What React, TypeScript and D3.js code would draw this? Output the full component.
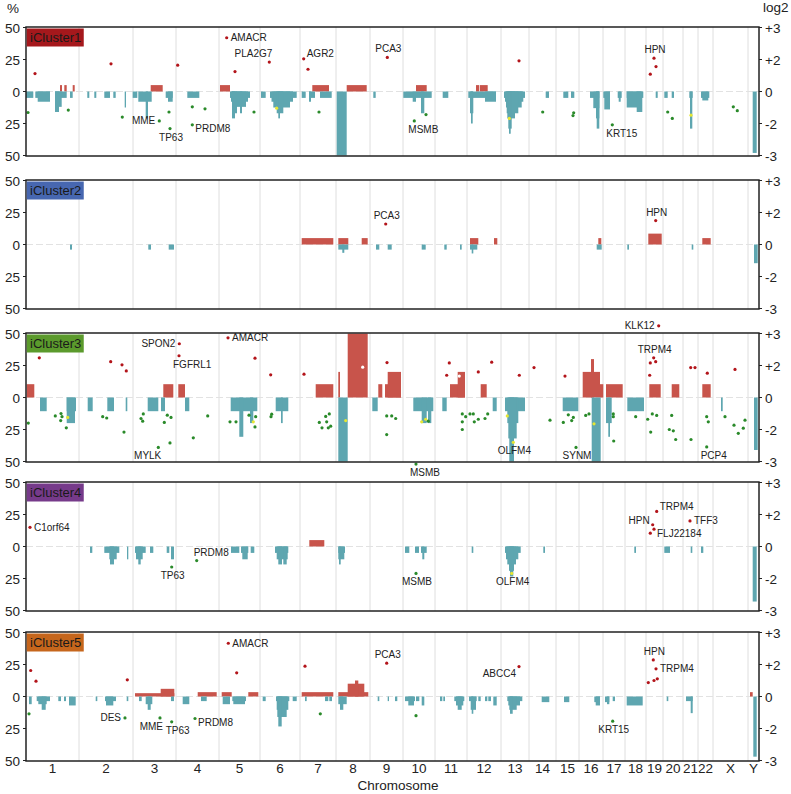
import React from 'react';
import * as d3 from 'd3';

// ---------- DATA ----------
const chromosomes = ['1','2','3','4','5','6','7','8','9','10','11','12','13','14','15','16','17','18','19','20','21','22','X','Y'];
// relative chromosome sizes in genome units
const chromLengths = [53,54,43,43,41,40,36,34,33,32,32,34,28,27,23,24,22,21,17,20,15,15,35,11];

const clusterNames = ['iCluster1','iCluster2','iCluster3','iCluster4','iCluster5'];
const clusterColors = ['#a5181c','#4767b0','#5b9a2c','#763a8a','#c6661c'];

const leftTicks = [50, 25, 0, -25, -50];
const rightTicks = [3, 2, 0, -2, -3];
const rightTickLabels = ['+3', '+2', '0', '-2', '-3'];

type Seg = [number, number, number];
type Pt = [number, number, string, string?, string?];

// [start, end, % of samples] in genome units
const gains1: Seg[] = [
  [34,36,5],[38.3,40.7,5],[46.7,48.7,5],[124.7,136.7,5],[194,204,5],[286.3,303,5],[320.7,340.7,5],
  [390,400.7,5],[450,453,5],[453.7,461.7,5],
];
const losses1: Seg[] = [
  [0,7.3,5],[9.3,24,5],[11.7,24,8],[29,40.7,5],[29,35.7,12],[29,33,16],[44,46.7,5],
  [61.3,63.3,5],[68.3,70.3,5],[78.3,84,5],[87.3,89.7,5],[98.7,100,12.5],
  [106.7,111.3,5],[112.3,125.7,8],[119.7,122,21],[139.7,146.7,5],[142,146.7,8],
  [161.3,173.3,5],
  [204,224,5],[205,222,8],[206,220,12],[206,211,17],[206,209,21],[214,216,17],
  [235,239.7,5],[244,270.7,5],[245.5,267,8],[247.3,264,12.5],[250.7,257.3,17],[252.3,254,21],
  [275.7,279.7,5],[283,289,5],[283,285,8],[294,305.7,5],
  [310.7,320.7,50],[347.3,349.7,5],
  [377.3,405.7,5],[386.7,390,8],[395,398.3,17],
  [416.7,422.3,5],
  [442.3,470,5],[444,447.3,17],[445,446.7,25],[459,470,8],
  [478,499,5],[479,497.3,8],[480,495.7,12.5],[480.7,492.3,17],[481.3,489,21],[482.3,485.7,29],[483,484.7,33],
  [519.7,523,5],[537.3,542.3,5],[545,548.3,5],
  [564,573.3,5],[567.3,573.3,13],[570,573.3,21],[570.7,573.3,29],[577.3,584,5],[578.3,584,14],
  [591.7,595.7,5],[592.7,594.7,8],
  [600.7,617.3,5],[600.7,615,12.5],[610.7,616.3,16],
  [629.7,631.7,5],[638.3,641.7,5],[645.7,648,5],
  [663.3,666.7,5],[664,666.3,29],
  [675,683.3,5],[676.3,682.3,7],
  [726.7,730.7,48],
];
const points1: Pt[] = [
  [9,14,'r'],[85,21.6,'r'],[151.7,20.6,'r'],[200.7,42,'r','AMACR','r'],[209,15.6,'r'],
  [243.3,23,'r','PLA2G7','tl'],[277.7,25.5,'r','AGR2','ru'],[282,17.4,'r'],[361.3,26.6,'r','PCA3','t'],
  [493,24,'r'],[628,26,'r','HPN','t'],[630,19.5,'r'],[624.3,13.5,'r'],
  [2,-16.4,'g'],[42.3,-14.5,'g'],[96.3,-20,'g'],[133.3,-23,'g','MME','l'],[143,-16,'g'],
  [144,-29,'g','TP63','b'],[166.3,-12,'g'],[179,-13.5,'g'],[166.3,-26,'g','PRDM8','rd'],
  [228,-16,'g'],[293,-16,'g'],[388.3,-23,'g','MSMB','br'],[400,-18,'g'],[516.7,-16,'g'],
  [547.7,-16.6,'g'],[547,-18.8,'g'],[586.3,-26,'g','KRT15','br'],[641.7,-16,'g'],[646.3,-21,'g'],
  [707.3,-12,'g'],[711.3,-15,'g'],
  [250.7,-13,'y'],[483.3,-21,'y'],[665,-18.5,'y'],
];

const gains2: Seg[] = [
  [275.7,307.3,5],[312.3,322.3,5],[335.7,341.7,5],[444,452.3,5],[468,471.3,5],[572.3,575.3,5],
  [622.3,635.7,8.5],[676.3,684.7,5],
];
const losses2: Seg[] = [
  [44,46,4],[122.3,125,4],[142.7,148,4],[312.3,322.3,4],[316.3,318.3,6.5],[350,353.3,4],[361.7,365.7,4],
  [395.7,399.7,4],[418.3,420.7,4],[434,435.7,4],[444,451.3,4],[445.7,447.3,7],[570.7,575.7,4],
  [601.3,603,4],[665.7,667.3,4],[728,731.7,14.6],
];
const points2: Pt[] = [
  [359.7,16,'r','PCA3','t'],[629.7,18.7,'r','HPN','t'],
];

const gains3: Seg[] = [
  [0.7,8.3,10.4],[137.3,147.3,10.4],[152.3,159,10.4],[289.7,307.3,10.4],[312.3,314,20],[321.7,341.7,50],
  [352.3,356.3,10.4],[359,375,10.4],[361.7,375,20],[424,439,10.4],[431.7,439,20],[454.7,460.7,10.4],
  [556.7,574,20],[565,568,30],[574,577.3,10.4],[580,596.7,10.4],[623.3,634.7,10.4],[645.7,653.3,10.4],
  [676.3,684.7,10.4],
];
const losses3: Seg[] = [
  [14,20.7,10.7],[40.7,50,10.7],[40.7,49,20],[61.7,66.7,10.7],[81.3,88,10.7],[99.7,101.3,10.7],
  [121.7,132.3,10.7],[135,139,10.7],[159,163.3,10.7],
  [204.7,231.3,10.7],[213.3,217.3,30.7],[224,227.3,20],
  [249.7,262.3,10.7],[255,256.7,20],
  [312.3,321.7,50],[346.3,351.7,10.7],
  [387.3,407.3,10.7],[395.7,400.7,20],[402,405.3,20],
  [416.3,420.7,10.7],[466.7,470.7,10.7],
  [479,499,10.7],[481.3,492.3,20],[482.3,490.7,32],[483.3,488,50],
  [536.7,552.3,10.7],[565.7,574.7,50],[580,585.7,20],[582.3,584,30.7],
  [601.3,618,10.7],[695,696.7,10.7],[728,731.7,41],
];
const points3: Pt[] = [
  [13.3,31,'r'],[84.7,28,'r'],[96,25.5,'r'],[100.3,20.8,'r'],[153.3,42,'r','SPON2','l'],
  [153,32.6,'r','FGFRL1','br'],[202,46.6,'r','AMACR','r'],[229,30.7,'r'],[244.7,17.7,'r'],[278,18.2,'r'],
  [361,27.3,'r'],[423.3,27,'r'],[420.7,17.4,'r'],[452.3,20,'r'],[465.7,27.6,'r'],[493.3,17.4,'r'],
  [508,23.4,'r'],[539,16.7,'r'],[627.7,31,'r','TRPM4','t'],[624.3,27,'r'],[629.7,28,'r'],[623.7,17.4,'r'],
  [632.7,56,'r','KLK12','l'],[664.7,23.4,'r'],[669,23.4,'r'],[681.3,19,'r'],[709,21.9,'r'],
  [336.7,23.7,'w'],[433.3,16.7,'w'],
  [2.3,-20,'g'],[29.3,-14.4,'g'],[35,-12.5,'g'],[36,-15,'g'],[34.7,-18,'g'],[40.3,-23.7,'g'],
  [76.7,-15,'g'],[80.7,-16,'g'],[98,-27,'g'],[115,-16.4,'g'],[117.3,-12.8,'g'],[116.7,-18.5,'g'],
  [138.3,-19.5,'g'],[141.3,-13.8,'g'],[145,-15.6,'g'],[132.3,-39,'g','MYLK','bl'],[144,-35.5,'g'],
  [167.3,-31.5,'g'],[181.7,-14.4,'g'],[204,-19,'g'],[210,-19,'g'],[223,-13.8,'g'],[229,-23,'g'],
  [229.7,-15,'g'],[245,-15,'g'],[245.7,-13,'g'],[293.3,-19.5,'g'],[296,-23.7,'g'],[299.7,-14.8,'g'],
  [300.7,-19,'g'],[303.3,-12.8,'g'],[302.3,-23.7,'g'],[304.7,-22.4,'g'],[360.7,-14.4,'g'],
  [365.7,-14.4,'g'],[369.7,-16.4,'g'],[360.7,-29,'g'],[402.3,-18.5,'g'],[390,-52,'g','MSMB','br'],
  [436.3,-12.8,'g'],[436.3,-19,'g'],[436.3,-25,'g'],[439.7,-15,'g'],[444,-12.8,'g'],[447.3,-12.8,'g'],
  [448.3,-19,'g'],[452.3,-17,'g'],[459,-16.4,'g'],[461.7,-12.8,'g'],[524,-17.7,'g'],[537.3,-19.5,'g'],
  [542.3,-13.5,'g'],[545.7,-18,'g'],[547.3,-15.6,'g'],[550,-39,'g','SYNM','b'],[559.7,-14,'g'],
  [563,-12.8,'g'],[587.3,-12.8,'g'],[587.3,-15,'g'],[587.7,-34,'g'],[609.7,-15,'g'],[621.7,-17,'g'],
  [626.3,-12.8,'g'],[630.7,-14,'g'],[624.7,-27,'g'],[645.7,-14,'g'],[643.3,-25,'g'],[647.3,-26,'g'],
  [649.7,-32.8,'g'],[665,-32.8,'g'],[680.7,-15,'g'],[682.3,-19,'g'],[680.7,-38.6,'g','PCP4','br'],
  [699,-15,'g'],[708,-21.6,'g'],[712.3,-28,'g'],[717.3,-24,'g'],[719,-17.7,'g'],
  [41.7,-15.6,'y'],[227.3,-19,'y'],[319.7,-18,'y'],[395.7,-19,'y'],[399.7,-17,'y'],[481.3,-14.4,'y'],
  [487.3,-35,'y','OLFM4','b'],[568,-20.6,'y'],
];

const gains4: Seg[] = [[283.3,298.3,5]];
const losses4: Seg[] = [
  [64,66.3,5],[78.3,93.3,5],[83.3,90.7,10],[84,88,14],[101,102.3,10],
  [109,119.7,5],[110,116.7,10],[112.3,114.7,14],[124,127.3,5],[140.7,143.3,5],[145,148,10],
  [205,213.3,5],[215,222.3,5],[216.3,221.7,10],[224.7,228.3,5],
  [249,262.3,5],[250.7,261.7,10],[252.3,256,14],[257.3,260.7,14],
  [312.3,319,5],[312.3,318.3,10],[313,314.7,14],
  [379,383.3,5],[389,393,5],[395,400.7,5],[396.3,398.3,10],[445.7,447.3,5],
  [479,494.7,5],[480,492.3,10],[481.3,490,14],[483,488,19],[484,487.3,23.4],
  [517.3,519,5],[608.3,610,5],[638.3,644,5],[664.7,666.3,5],[675,677.3,5],[726.7,730.7,43],
];
const points4: Pt[] = [
  [4,15,'r','C1orf64','r'],[626.7,17,'r','HPN','lu'],[630.7,27.4,'r','TRPM4','ru'],
  [628,13.5,'r','FLJ22184','rd'],[624.3,10.4,'r'],[664,20,'r','TFF3','r'],
  [145.7,-16,'g','TP63','b'],[170.7,-11,'g','PRDM8','tr'],[390,-21,'g','MSMB','b'],
  [485.7,-21,'y','OLFM4','b'],
];

const gains5: Seg[] = [
  [109,148.3,2.6],[134.7,148.3,6],[171.7,190.7,3.4],[195.7,205.7,3.4],[222.3,232.3,3.4],
  [275.7,307.3,3.4],[312.3,342.3,3.4],[321.7,338.3,10],[329,332.3,12.5],[724,726.7,3.4],
];
const losses5: Seg[] = [
  [3,5.7,6],[10.7,24,3.6],[12.3,20.7,6],[15.7,19.7,10.4],[32.3,35,3.6],[38,40,3.6],[43,49.7,7],
  [69.7,71.3,3.6],[79,90,3.6],[80,87.3,7],[100.7,102.3,3.6],
  [113,115.7,3.6],[119.7,126.3,6],[121.7,124.7,10.4],[145,148,3.6],
  [156.7,163.3,6],[175,180.7,3.6],[196.7,204,6],[206.3,220,3.6],[207.3,219,6],
  [236.7,239.7,3.6],[250,263.3,3.6],[250.7,262.3,10.4],[251.3,260.7,16],[252.3,255.7,23.4],[266.7,270.7,3.6],
  [279,280.7,3.6],[299,302.3,3.6],[303.3,306,3.6],[312.3,320.7,6],[314,317.3,10.4],
  [351.7,353.3,3.6],[361.7,363,3.6],[369,371.3,3.6],
  [379,389,3.6],[382.3,388,7],[390,393.3,3.6],[395.7,398.3,7],
  [414,416.3,3.6],[417.3,419,3.6],[428.3,438.3,3.6],[430,437.3,7],[431.7,435.7,10.4],
  [443,450.7,3.6],[444.7,450,10.4],[445.7,447.3,13.5],[452.3,454.7,3.6],[459,461.3,3.6],[462.3,465,3.6],[467.3,470.7,7],
  [481.3,496.3,3.6],[482.3,494,7],[483.3,490.7,10.4],[484,486.7,13.5],
  [515.7,523.3,4.4],[538,543.3,4.4],[568.3,574,4.4],[569.7,574,7],[579,583.3,4.4],[581,583.3,6],[586.7,589,3.6],
  [600.7,616.7,7],[640.7,642.3,3.6],[660,666.7,3.6],[664.7,666.7,13],[727.3,730.7,47],
];
const points5: Pt[] = [
  [4.7,20.3,'r'],[10,12,'r'],[101.3,13,'r'],[202.3,41.6,'r','AMACR','r'],[210.7,18.5,'r'],[279,23.7,'r'],
  [360.7,26,'r','PCA3','t'],[493,23.4,'r','ABCC4','ld'],[627.3,28.6,'r','HPN','t'],[630,21.6,'r','TRPM4','r'],
  [622.3,10.9,'r'],[628,12.5,'r'],[631.3,13.8,'r'],
  [3,-13.5,'g'],[99,-16.7,'g','DES','l'],[134,-16.7,'g','MME','bl'],[145.7,-19.8,'g','TP63','br'],
  [169,-17.2,'g','PRDM8','rd'],[294.3,-13.5,'g'],[390,-15,'g'],[586.7,-19.3,'g','KRT15','b'],
];

const panels = [
  { gains: gains1, losses: losses1, points: points1 },
  { gains: gains2, losses: losses2, points: points2 },
  { gains: gains3, losses: losses3, points: points3 },
  { gains: gains4, losses: losses4, points: points4 },
  { gains: gains5, losses: losses5, points: points5 },
];

// ---------- LAYOUT / STYLE ----------
const W = 791, H = 794;
const X0 = 26, X1 = 759;
const panelTops = [27, 180, 333, 482, 632];
const PH = 129;
const FONT = '"Liberation Sans", Arial, Helvetica, sans-serif';
const GAIN = '#c8544b';
const LOSS = '#5ea6b0';
const DOT: Record<string, string> = { r: '#b3141a', g: '#2a8a2a', y: '#e6e632', w: '#ffffff' };

function labelPos(x: number, y: number, p: string): [number, number, string] {
  switch (p) {
    case 'r': return [x + 4, y + 3.5, 'start'];
    case 'rd': return [x + 3, y + 7.5, 'start'];
    case 'ru': return [x + 3, y - 1.5, 'start'];
    case 'l': return [x - 4, y + 3.5, 'end'];
    case 'lu': return [x - 3, y - 1, 'end'];
    case 'ld': return [x - 3, y + 10.5, 'end'];
    case 't': return [x + 1, y - 5, 'middle'];
    case 'b': return [x + 1, y + 12, 'middle'];
    case 'tl': return [x + 3, y - 5, 'end'];
    case 'tr': return [x - 3, y - 5, 'start'];
    case 'bl': return [x + 3, y + 12, 'end'];
    case 'br': return [x - 6, y + 12, 'start'];
    default: return [x + 4, y + 3.5, 'start'];
  }
}

export default function App() {
  const total = d3.sum(chromLengths);
  const x = d3.scaleLinear().domain([0, total]).range([X0, X1]);
  const bounds = [0, ...d3.cumsum(chromLengths)];
  const log2ToPct = d3.scaleLinear().domain([-3, -2, 0, 2, 3]).range([-50, -25, 0, 25, 50]);

  return (
    <svg width={W} height={H} viewBox={`0 0 ${W} ${H}`}
      style={{ position: 'absolute', left: 0, top: 0, display: 'block', background: '#fff' }}
      fontFamily={FONT}>
      <rect x={0} y={0} width={W} height={H} fill="#fff" />
      <text x={7} y={13} fontSize={13.5} fill="#222">%</text>
      <text x={763} y={12} fontSize={13.5} fill="#222">log2</text>
      {panels.map((pd, i) => {
        const top = panelTops[i];
        const zero = top + PH / 2;
        const y = d3.scaleLinear().domain([-50, 50]).range([zero + 64, zero - 64]);
        return (
          <g key={i}>
            {bounds.slice(1, -1).map((b, k) => (
              <line key={'v' + k} x1={x(b)} x2={x(b)} y1={top} y2={top + PH} stroke="#dedede" strokeWidth={1} />
            ))}
            <line x1={X0} x2={X1} y1={y(0)} y2={y(0)} stroke="#e2e2e2" strokeWidth={1} strokeDasharray="7,3" />
            {pd.gains.map((s, k) => (
              <rect key={'g' + k} x={x(s[0])} width={x(s[1]) - x(s[0])} y={y(s[2])} height={y(0) - y(s[2])} fill={GAIN} />
            ))}
            {pd.losses.map((s, k) => (
              <rect key={'l' + k} x={x(s[0])} width={x(s[1]) - x(s[0])} y={y(0)} height={y(-s[2]) - y(0)} fill={LOSS} />
            ))}
            {pd.points.map((p, k) => (
              <circle key={'p' + k} cx={x(p[0])} cy={y(p[1])} r={1.6} fill={DOT[p[2]]} />
            ))}
            {pd.points.filter(p => p[3]).map((p, k) => {
              const [lx, ly, anchor] = labelPos(x(p[0]), y(p[1]), p[4] as string);
              return <text key={'t' + k} x={lx} y={ly} fontSize={10} fill="#222" textAnchor={anchor as any}>{p[3]}</text>;
            })}
            <rect x={X0} y={top} width={X1 - X0} height={PH} fill="none" stroke="#222" strokeWidth={1.5} />
            <rect x={X0 + 0.75} y={top + 1.5} width={57} height={18} fill={clusterColors[i]} />
            <text x={X0 + 4} y={top + 15} fontSize={13} fill="#1a1a1a">{clusterNames[i]}</text>
            {leftTicks.map(t => (
              <g key={'lt' + t}>
                <line x1={X0 - 3} x2={X0} y1={y(t)} y2={y(t)} stroke="#222" />
                <text x={20} y={y(t) + 5} fontSize={13.5} textAnchor="end" fill="#222">{Math.abs(t)}</text>
              </g>
            ))}
            {rightTicks.map((t, k) => (
              <g key={'rt' + t}>
                <line x1={X1} x2={X1 + 3} y1={y(log2ToPct(t))} y2={y(log2ToPct(t))} stroke="#222" />
                <text x={765} y={y(log2ToPct(t)) + 5} fontSize={13.5} fill="#222">{rightTickLabels[k]}</text>
              </g>
            ))}
          </g>
        );
      })}
      {chromosomes.map((c, k) => (
        <text key={'c' + c} x={x((bounds[k] + bounds[k + 1]) / 2)} y={773} fontSize={13.5} textAnchor="middle" fill="#222">{c}</text>
      ))}
      <text x={398} y={790} fontSize={13.5} textAnchor="middle" fill="#222">Chromosome</text>
    </svg>
  );
}
